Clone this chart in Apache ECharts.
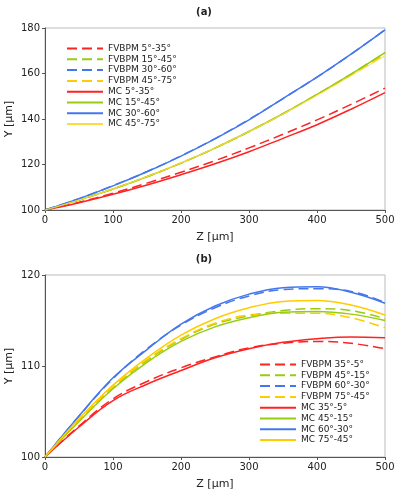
<!DOCTYPE html>
<html>
<head>
<meta charset="utf-8">
<script src="https://cdn.jsdelivr.net/npm/echarts@6/dist/echarts.min.js"></script>
<style>
  html, body { margin: 0; padding: 0; background: #fff; }
  #chart { width: 399px; height: 497px; }
</style>
</head>
<body>
<div id="chart"></div>
<script>
  // Z positions (µm) shared by all curves
  const zVals = [0, 50, 100, 150, 200, 250, 300, 350, 400, 450, 500];

  // (a) Y [µm]
  const aFv5_35 = [100, 103.4, 107.4, 111.8, 116.6, 121.7, 127.3, 133.3, 139.6, 146.4, 153.6];
  const aFv15_45 = [100, 104.4, 109.2, 114.6, 120.6, 127.2, 134.5, 142.3, 150.8, 159.7, 169.2];
  const aFv30_60 = [100, 105.0, 110.7, 116.9, 123.8, 131.4, 139.8, 149.0, 158.4, 168.5, 179.2];
  const aFv45_75 = [100, 104.4, 109.3, 114.7, 120.7, 127.3, 134.5, 142.3, 150.6, 159.3, 168.3];
  const aMc5_35 = [100, 103.2, 106.9, 111.0, 115.5, 120.3, 125.6, 131.5, 137.5, 144.3, 151.6];
  const aMc15_45 = [100, 104.4, 109.2, 114.6, 120.6, 127.2, 134.5, 142.3, 150.8, 159.7, 169.2];
  const aMc30_60 = [100, 105.0, 110.6, 116.8, 123.7, 131.3, 139.6, 149.0, 158.4, 168.5, 179.2];
  const aMc45_75 = [100, 104.4, 109.3, 114.7, 120.7, 127.3, 134.5, 142.2, 150.4, 159.0, 167.8];

  // (b) Y [µm]
  const bFv35_5 = [100, 103.4, 106.4, 108.3, 109.8, 111.0, 112.0, 112.5, 112.7, 112.5, 111.9];
  const bFv45_15 = [100, 104.0, 107.6, 110.6, 112.9, 114.6, 115.5, 116.1, 116.3, 116.1, 115.2];
  const bFv60_30 = [100, 104.5, 108.6, 111.9, 114.5, 116.4, 117.7, 118.4, 118.5, 118.2, 117.0];
  const bFv75_45 = [100, 104.0, 107.7, 110.7, 113.0, 114.7, 115.6, 115.8, 115.8, 115.3, 114.2];
  const bMc35_5 = [100, 103.3, 106.2, 108.0, 109.5, 110.9, 111.9, 112.6, 113.0, 113.2, 113.1];
  const bMc45_15 = [100, 103.9, 107.5, 110.4, 112.7, 114.3, 115.3, 115.9, 116.0, 115.7, 115.0];
  const bMc60_30 = [100, 104.5, 108.7, 111.8, 114.6, 116.6, 117.9, 118.6, 118.7, 118.1, 116.9];
  const bMc75_45 = [100, 104.2, 107.9, 110.9, 113.4, 115.2, 116.4, 117.1, 117.2, 116.7, 115.6];

  const RED = '#ff2222', GREEN = '#99cc11', BLUE = '#4477ee', YELLOW = '#ffcc00';
  const FONT = 'DejaVu Sans';

  function pairs(ys) {
    return zVals.map((z, i) => [z, ys[i]]);
  }

  function line(name, ys, color, dashed, idx, width) {
    return {
      name: name,
      type: 'line',
      xAxisIndex: idx,
      yAxisIndex: idx,
      data: pairs(ys),
      smooth: 0.4,
      symbol: 'none',
      animation: false,
      lineStyle: { color: color, width: width || 1.5, type: dashed ? [10, 5] : 'solid' },
      itemStyle: { color: color }
    };
  }

  function xAxisFor(idx) {
    return {
      gridIndex: idx, type: 'value', min: 0, max: 500, interval: 100,
      name: 'Z [µm]', nameLocation: 'middle', nameGap: 22, nameMoveOverlap: false,
      nameTextStyle: { fontFamily: FONT, fontSize: 11, color: '#222' },
      axisLine: { lineStyle: { color: '#555', width: 1 } },
      axisTick: { show: true, length: 3, lineStyle: { color: '#555' } },
      axisLabel: { fontFamily: FONT, fontSize: 10, color: '#222', margin: 5 },
      splitLine: { show: false }
    };
  }

  function yAxisFor(idx, min, max, interval) {
    return {
      gridIndex: idx, type: 'value', min: min, max: max, interval: interval,
      name: 'Y [µm]', nameLocation: 'middle', nameGap: 30, nameMoveOverlap: false,
      nameTextStyle: { fontFamily: FONT, fontSize: 11, color: '#222' },
      axisLine: { show: true, lineStyle: { color: '#555', width: 1 } },
      axisTick: { show: true, length: 3, lineStyle: { color: '#555' } },
      axisLabel: { fontFamily: FONT, fontSize: 10, color: '#222', margin: 5 },
      splitLine: { show: false }
    };
  }

  const legendText = { fontFamily: FONT, fontSize: 9, color: '#222' };

  const option = {
    backgroundColor: '#fff',
    title: [
      { text: '(a)', left: 199, top: 2, textAlign: 'center',
        textStyle: { fontFamily: FONT, fontSize: 10, fontWeight: 'bold', color: '#222' } },
      { text: '(b)', left: 199, top: 249, textAlign: 'center',
        textStyle: { fontFamily: FONT, fontSize: 10, fontWeight: 'bold', color: '#222' } }
    ],
    grid: [
      { left: 45, width: 340, top: 28, height: 182, show: true, borderColor: '#bbb', borderWidth: 1,
        outerBoundsMode: 'none', containLabel: false },
      { left: 45, width: 340, top: 275, height: 182, show: true, borderColor: '#bbb', borderWidth: 1,
        outerBoundsMode: 'none', containLabel: false }
    ],
    xAxis: [xAxisFor(0), xAxisFor(1)],
    yAxis: [yAxisFor(0, 100, 180, 20), yAxisFor(1, 100, 120, 10)],
    legend: [
      {
        orient: 'vertical', left: 61, top: 39, itemWidth: 36, itemHeight: 8, itemGap: 1.8,
        itemStyle: { opacity: 0 },
        textStyle: legendText,
        data: ['FVBPM 5°-35°', 'FVBPM 15°-45°', 'FVBPM 30°-60°', 'FVBPM 45°-75°',
               'MC 5°-35°', 'MC 15°-45°', 'MC 30°-60°', 'MC 45°-75°']
      },
      {
        orient: 'vertical', left: 254, top: 355, itemWidth: 36, itemHeight: 8, itemGap: 1.8,
        itemStyle: { opacity: 0 },
        textStyle: legendText,
        data: ['FVBPM 35°-5°', 'FVBPM 45°-15°', 'FVBPM 60°-30°', 'FVBPM 75°-45°',
               'MC 35°-5°', 'MC 45°-15°', 'MC 60°-30°', 'MC 75°-45°']
      }
    ],
    series: [
      line('FVBPM 5°-35°', aFv5_35, RED, true, 0),
      line('FVBPM 15°-45°', aFv15_45, GREEN, true, 0),
      line('FVBPM 30°-60°', aFv30_60, BLUE, true, 0),
      line('FVBPM 45°-75°', aFv45_75, YELLOW, true, 0),
      line('MC 5°-35°', aMc5_35, RED, false, 0),
      line('MC 15°-45°', aMc15_45, GREEN, false, 0),
      line('MC 30°-60°', aMc30_60, BLUE, false, 0),
      line('MC 45°-75°', aMc45_75, '#ffd940', false, 0, 1),

      line('FVBPM 35°-5°', bFv35_5, RED, true, 1),
      line('FVBPM 45°-15°', bFv45_15, GREEN, true, 1),
      line('FVBPM 60°-30°', bFv60_30, BLUE, true, 1),
      line('FVBPM 75°-45°', bFv75_45, YELLOW, true, 1),
      line('MC 35°-5°', bMc35_5, RED, false, 1),
      line('MC 45°-15°', bMc45_15, GREEN, false, 1),
      line('MC 60°-30°', bMc60_30, BLUE, false, 1),
      line('MC 75°-45°', bMc75_45, YELLOW, false, 1)
    ]
  };

  const chart = echarts.init(document.getElementById('chart'));
  chart.setOption(option);
</script>
</body>
</html>
